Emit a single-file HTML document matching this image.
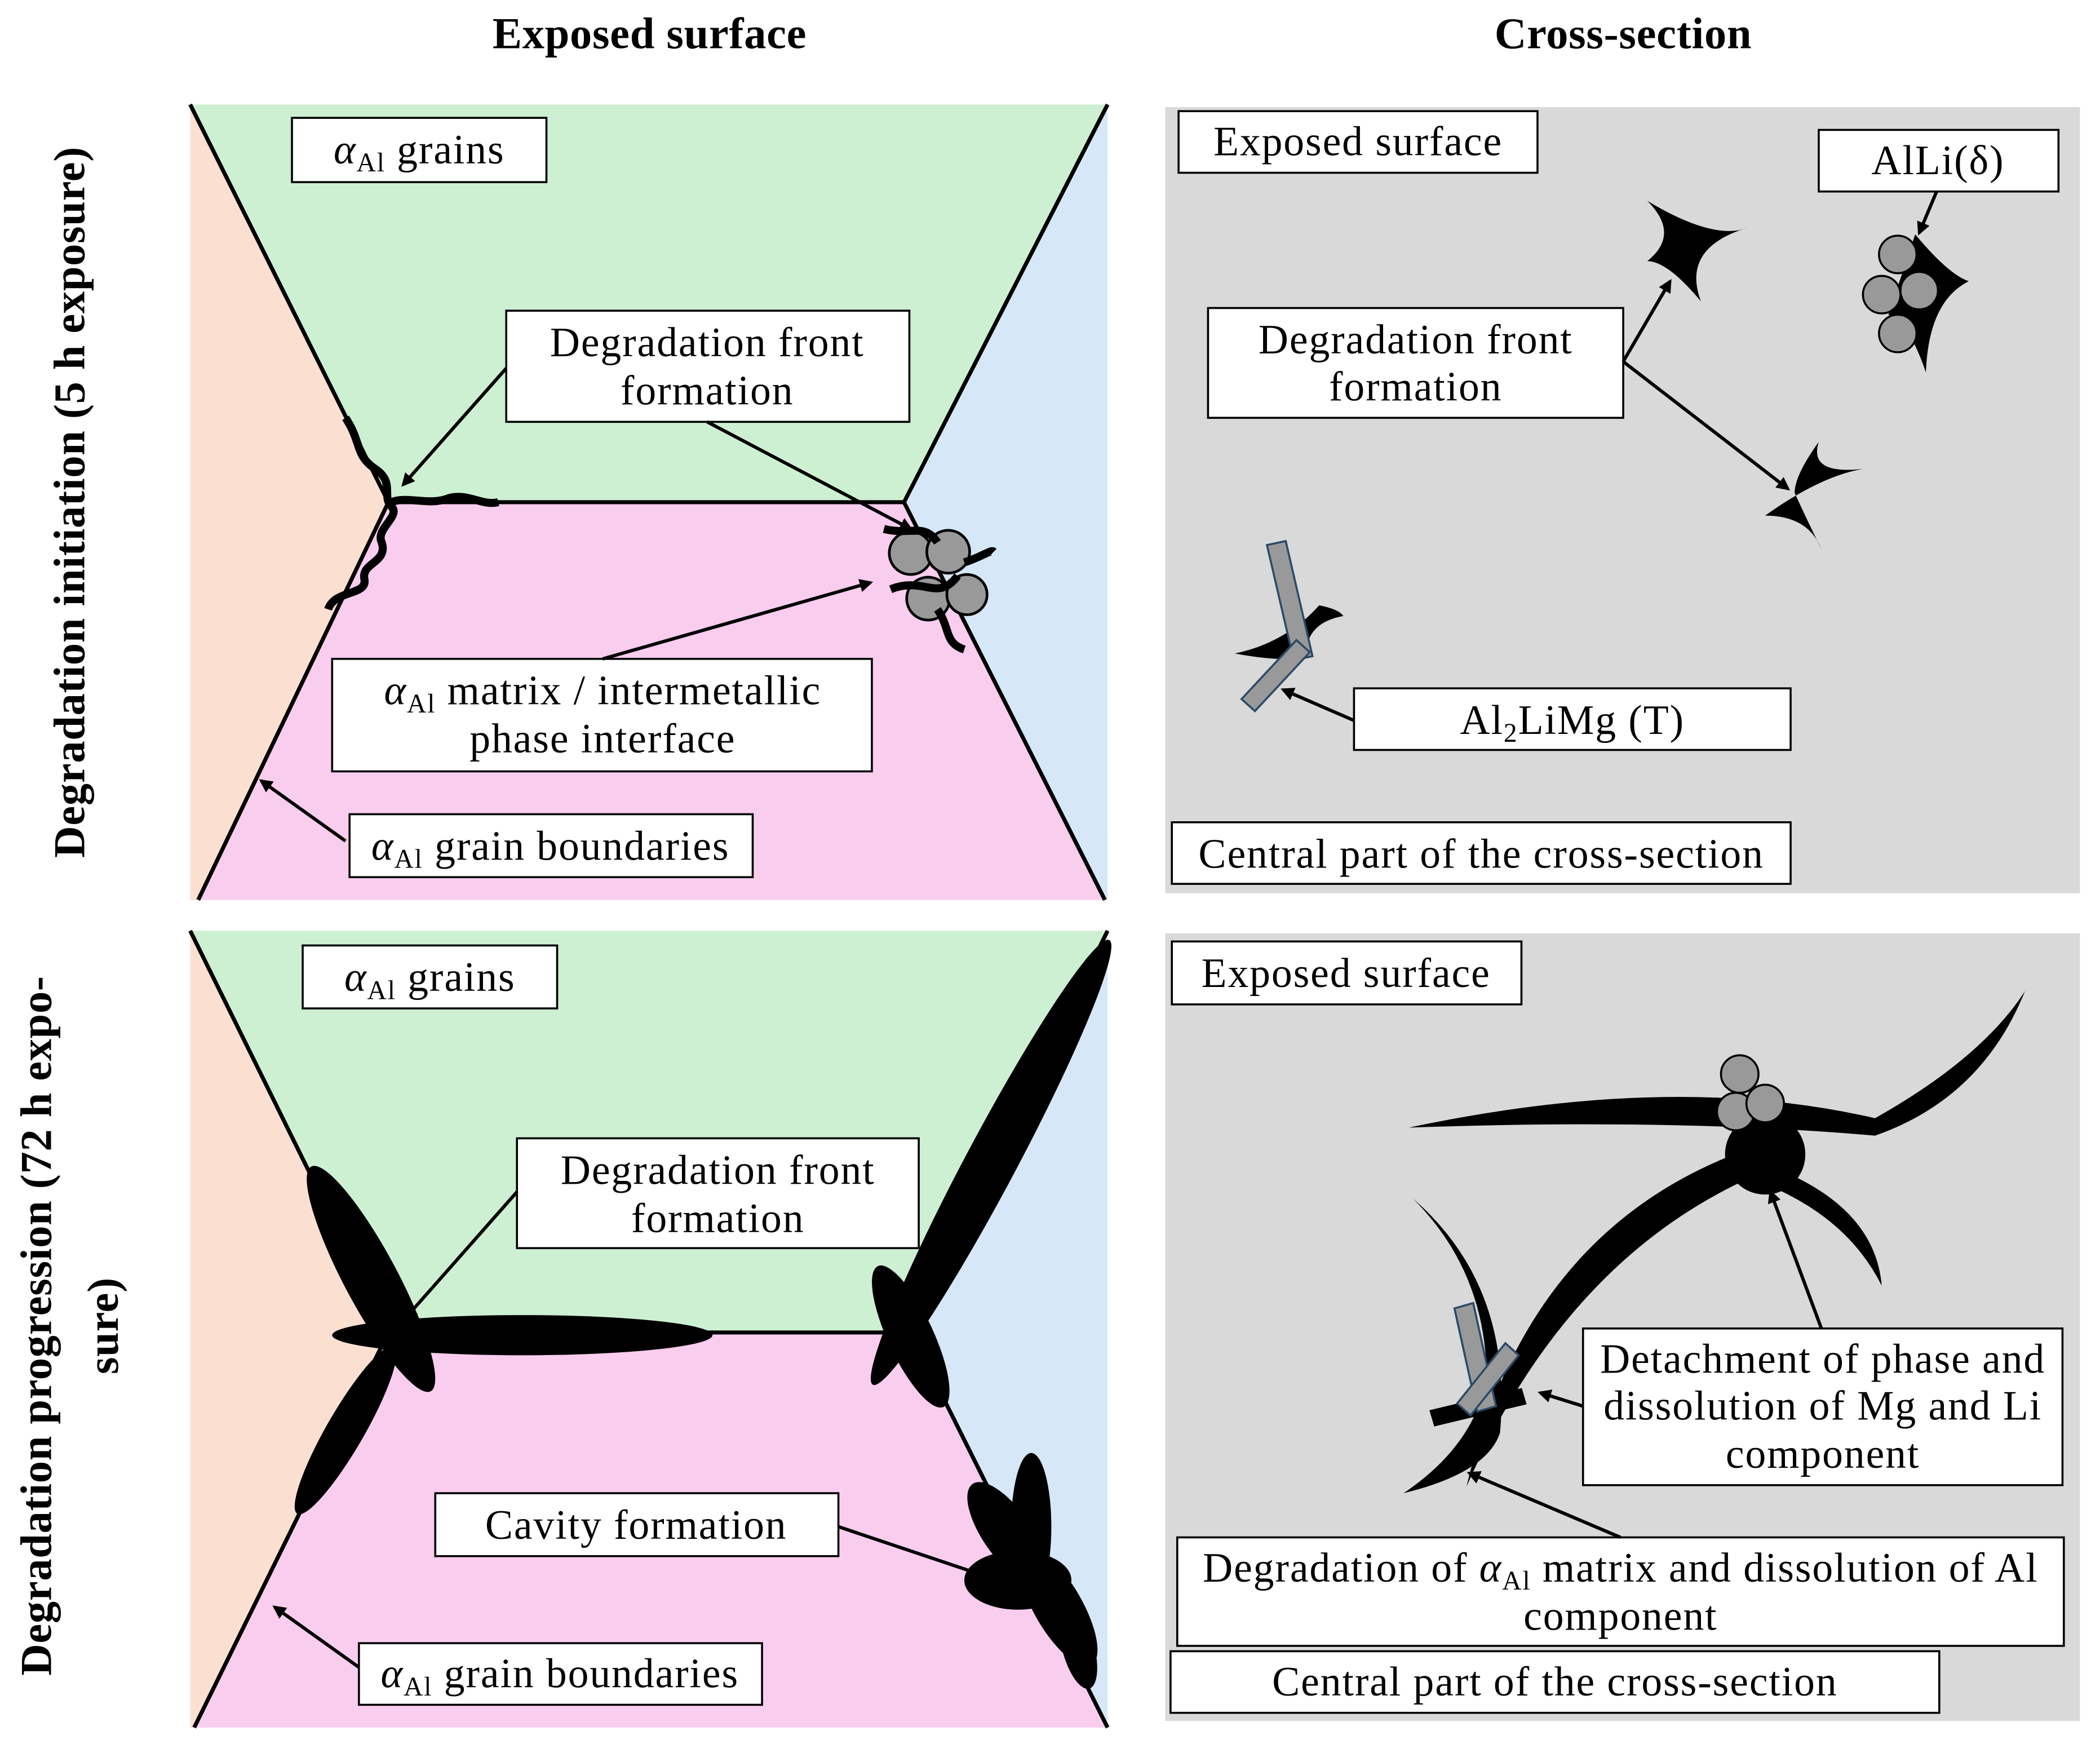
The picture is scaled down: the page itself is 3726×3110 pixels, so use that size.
<!DOCTYPE html>
<html><head><meta charset="utf-8"><style>
html,body{margin:0;padding:0;background:#fff;}
svg{display:block;}
text{font-family:"Liberation Serif",serif;font-size:31px;letter-spacing:0.8px;fill:#000;}
.b{font-weight:bold;font-size:33px;letter-spacing:0.3px;}
.box{fill:#fff;stroke:#000;stroke-width:1.5;}
.ln{stroke:#000;stroke-width:3;fill:none;}
.ar{stroke:#000;stroke-width:2.5;fill:none;marker-end:url(#ah);}
</style></head><body>
<svg width="3726" height="3110" viewBox="0 0 1568 1309" preserveAspectRatio="none" xmlns="http://www.w3.org/2000/svg">
<defs><marker id="ah" markerWidth="10" markerHeight="10" refX="8" refY="5" orient="auto" markerUnits="userSpaceOnUse"><path d="M0,0 L10,5 L0,10 Z" fill="#000"/></marker></defs>
<rect width="1568" height="1309" fill="#fff"/>
<text class="b" x="485" y="36" text-anchor="middle">Exposed surface</text>
<text class="b" x="1212" y="36" text-anchor="middle">Cross-section</text>
<text class="b" transform="translate(63,375) rotate(-90)" text-anchor="middle">Degradation initiation (5 h exposure)</text>
<text class="b" transform="translate(38,990) rotate(-90)" text-anchor="middle">Degradation progression (72 h expo-</text>
<text class="b" transform="translate(88,990) rotate(-90)" text-anchor="middle">sure)</text>

<polygon points="142,78 290,375 148,672 142,672" fill="#fbe0d2"/>
<polygon points="827,78 827,672 825,672 675,375" fill="#d6e8f7"/>
<polygon points="142,78 827,78 675,375 290,375" fill="#cdf0d2"/>
<polygon points="290,375 675,375 825,672 148,672" fill="#f9cdee"/>
<polyline class="ln" points="142,78 290,375 675,375 827,78"/>
<polyline class="ln" points="290,375 148,672"/>
<polyline class="ln" points="675,375 825,672"/>
<path d="M258,312 C270,330 265,340 280,350 C295,360 285,370 292,378 C300,385 280,395 285,405 C290,420 270,420 272,432 C275,445 250,440 245,455 M292,375 C305,370 320,378 335,372 C350,368 360,378 372,375" stroke="#000" stroke-width="6" fill="none"/>
<g stroke="#000" stroke-width="2" fill="#999">
<circle cx="680" cy="413" r="16"/><circle cx="708" cy="412" r="16"/><circle cx="693" cy="447" r="16"/><circle cx="722" cy="444" r="15"/></g>
<path d="M660,395 C680,400 690,390 700,405 M665,440 C690,430 700,450 715,430 M720,420 C735,415 740,410 742,412 M700,455 C710,470 705,480 720,485" stroke="#000" stroke-width="6" fill="none"/>

<rect class="box" x="218" y="88" width="190" height="48"/>
<text x="313" y="122" text-anchor="middle"><tspan font-style="italic">α</tspan><tspan font-size="20" dy="6">Al</tspan><tspan dy="-6"> grains</tspan></text>
<rect class="box" x="378" y="232" width="301" height="83"/>
<text x="528" y="266" text-anchor="middle">Degradation front</text>
<text x="528" y="302" text-anchor="middle">formation</text>
<rect class="box" x="248" y="492" width="403" height="84"/>
<text x="450" y="526" text-anchor="middle"><tspan font-style="italic">α</tspan><tspan font-size="20" dy="6">Al</tspan><tspan dy="-6"> matrix / intermetallic</tspan></text>
<text x="450" y="562" text-anchor="middle">phase interface</text>
<rect class="box" x="261" y="608" width="301" height="47"/>
<text x="411" y="642" text-anchor="middle"><tspan font-style="italic">α</tspan><tspan font-size="20" dy="6">Al</tspan><tspan dy="-6"> grain boundaries</tspan></text>
<line class="ar" x1="378" y1="275" x2="301" y2="362"/>
<line class="ar" x1="528" y1="315" x2="680" y2="395"/>
<line class="ar" x1="450" y1="492" x2="650" y2="435"/>
<line class="ar" x1="258" y1="628" x2="195" y2="583"/>

<rect x="870" y="80" width="683" height="587" fill="#d9d9d9"/>
<g fill="#000">
<path d="M1230,150 Q1280,180 1305,170 Q1255,185 1270,225 Q1245,195 1230,195 Q1255,175 1230,150Z"/>
<path d="M1318,385 Q1360,355 1392,350 Q1350,355 1358,330 Q1340,355 1340,368 Q1350,390 1360,410 Q1350,385 1318,385Z"/>
<path d="M922,488 Q960,480 985,452 Q1000,455 1003,460 Q975,465 975,490 Q960,495 922,488Z"/>
<path d="M1430,175 Q1455,205 1470,210 Q1440,225 1438,278 Q1425,240 1410,235Z"/>
</g>
<g stroke="#000" stroke-width="1.5" fill="#999">
<circle cx="1417" cy="190" r="14"/><circle cx="1405" cy="220" r="14"/><circle cx="1433" cy="217" r="14"/><circle cx="1417" cy="249" r="14"/></g>
<g fill="#999" stroke="#2a4a66" stroke-width="1.5">
<polygon points="946,407 960,404 980,490 966,493"/>
<polygon points="927,522 968,478 978,487 937,531"/></g>
<rect class="box" x="880" y="83" width="268" height="46"/>
<text x="1014" y="116" text-anchor="middle">Exposed surface</text>
<rect class="box" x="1358" y="97" width="179" height="46"/>
<text x="1447" y="130" text-anchor="middle">AlLi(δ)</text>
<rect class="box" x="902" y="230" width="310" height="82"/>
<text x="1057" y="264" text-anchor="middle">Degradation front</text>
<text x="1057" y="299" text-anchor="middle">formation</text>
<rect class="box" x="1011" y="514" width="326" height="46"/>
<text x="1174" y="548" text-anchor="middle">Al<tspan font-size="20" dy="6">2</tspan><tspan dy="-6">LiMg (T)</tspan></text>
<rect class="box" x="875" y="614" width="462" height="46"/>
<text x="1106" y="648" text-anchor="middle">Central part of the cross-section</text>
<line class="ar" x1="1212" y1="270" x2="1247" y2="210"/>
<line class="ar" x1="1212" y1="270" x2="1335" y2="365"/>
<line class="ar" x1="1446" y1="143" x2="1433" y2="174"/>
<line class="ar" x1="1011" y1="538" x2="958" y2="515"/>

<polygon points="142,695 290,995 145,1290 142,1290" fill="#fbe0d2"/>
<polygon points="827,695 827,1290 680,995" fill="#d6e8f7"/>
<polygon points="142,695 827,695 680,995 290,995" fill="#cdf0d2"/>
<polygon points="290,995 680,995 827,1290 145,1290" fill="#f9cdee"/>
<polyline class="ln" points="142,695 290,995 680,995 827,695"/>
<polyline class="ln" points="290,995 145,1290"/>
<polyline class="ln" points="680,995 827,1290"/>
<g fill="#000">
<ellipse cx="390" cy="997" rx="142" ry="15"/>
<ellipse cx="277" cy="955" rx="95" ry="20" transform="rotate(62 277 955)"/>
<ellipse cx="258" cy="1068" rx="72" ry="14" transform="rotate(-60 258 1068)"/>
<ellipse cx="740" cy="868" rx="188" ry="19" transform="rotate(-62 740 868)"/>
<ellipse cx="680" cy="998" rx="58" ry="17" transform="rotate(65 680 998)"/>
<ellipse cx="770" cy="1140" rx="15" ry="55"/>
<ellipse cx="752" cy="1145" rx="45" ry="18" transform="rotate(55 752 1145)"/>
<ellipse cx="790" cy="1200" rx="50" ry="18" transform="rotate(60 790 1200)"/>
<ellipse cx="760" cy="1180" rx="40" ry="22"/>
<ellipse cx="805" cy="1230" rx="12" ry="32" transform="rotate(-15 805 1230)"/>
</g>
<rect class="box" x="226" y="706" width="190" height="47"/>
<text x="321" y="740" text-anchor="middle"><tspan font-style="italic">α</tspan><tspan font-size="20" dy="6">Al</tspan><tspan dy="-6"> grains</tspan></text>
<rect class="box" x="386" y="850" width="300" height="82"/>
<text x="536" y="884" text-anchor="middle">Degradation front</text>
<text x="536" y="920" text-anchor="middle">formation</text>
<rect class="box" x="325" y="1115" width="301" height="47"/>
<text x="475" y="1149" text-anchor="middle">Cavity formation</text>
<rect class="box" x="268" y="1227" width="301" height="46"/>
<text x="418" y="1260" text-anchor="middle"><tspan font-style="italic">α</tspan><tspan font-size="20" dy="6">Al</tspan><tspan dy="-6"> grain boundaries</tspan></text>
<line class="ar" x1="386" y1="890" x2="303" y2="984"/>
<line class="ar" x1="626" y1="1140" x2="745" y2="1180"/>
<line class="ar" x1="268" y1="1245" x2="205" y2="1200"/>

<rect x="870" y="697" width="683" height="588" fill="#d9d9d9"/>
<g fill="#000">
<path d="M1052,842 Q1250,800 1400,835 Q1480,790 1512,740 Q1480,820 1400,848 Q1250,835 1052,842Z"/>
<path d="M1095,1110 Q1140,920 1300,860 L1310,878 Q1170,940 1095,1110Z"/>
<path d="M1055,895 Q1130,960 1120,1070 Q1110,1100 1048,1115 Q1100,1080 1110,1030 Q1110,950 1055,895Z"/>
<path d="M1320,870 Q1400,900 1405,960 Q1380,910 1320,885Z"/>
<circle cx="1318" cy="862" r="30"/>
<polygon points="1072,1032 1138,1058 1134,1070 1068,1044" transform="rotate(-35 1103 1050)"/>
</g>
<g stroke="#000" stroke-width="1.5" fill="#999">
<circle cx="1299" cy="802" r="14"/><circle cx="1296" cy="830" r="14"/><circle cx="1318" cy="824" r="14"/></g>
<g fill="#999" stroke="#2a4a66" stroke-width="1.5">
<polygon points="1086,977 1100,973 1117,1050 1103,1054"/>
<polygon points="1088,1048 1124,1003 1134,1012 1098,1057"/></g>
<rect class="box" x="875" y="703" width="261" height="47"/>
<text x="1005" y="737" text-anchor="middle">Exposed surface</text>
<rect class="box" x="1182" y="992" width="358" height="117"/>
<text x="1361" y="1025" text-anchor="middle">Detachment of phase and</text>
<text x="1361" y="1060" text-anchor="middle">dissolution of Mg and Li</text>
<text x="1361" y="1096" text-anchor="middle">component</text>
<rect class="box" x="879" y="1148" width="662" height="81"/>
<text x="1210" y="1181" text-anchor="middle">Degradation of <tspan font-style="italic">α</tspan><tspan font-size="20" dy="6">Al</tspan><tspan dy="-6"> matrix and dissolution of Al</tspan></text>
<text x="1210" y="1217" text-anchor="middle">component</text>
<rect class="box" x="874" y="1233" width="574" height="46"/>
<text x="1161" y="1266" text-anchor="middle">Central part of the cross-section</text>
<line class="ar" x1="1360" y1="992" x2="1322" y2="890"/>
<line class="ar" x1="1182" y1="1050" x2="1150" y2="1040"/>
<line class="ar" x1="1210" y1="1148" x2="1097" y2="1100"/>
</svg>
</body></html>
